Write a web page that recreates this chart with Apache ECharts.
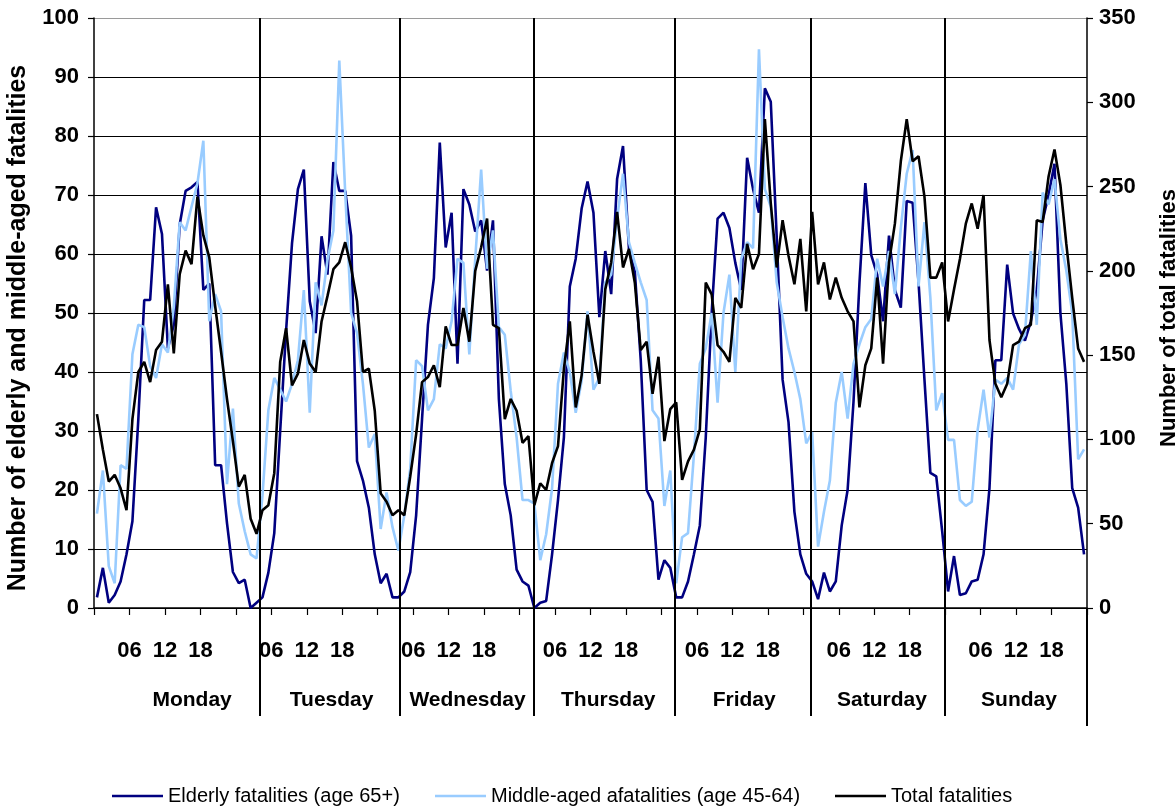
<!DOCTYPE html>
<html>
<head>
<meta charset="utf-8">
<script src="https://cdn.jsdelivr.net/npm/echarts@6/dist/echarts.min.js"></script>
<style>
html,body{margin:0;padding:0;background:#fff;}
#c{width:1175px;height:806px;}
</style>
</head>
<body>
<div id="c"></div>
<script>
// Hourly values, Monday 00h ... Sunday 23h (168 points)
const elderly = [
 1.8,6.8,0.9,2.2,4.5,9.1,14.7,32,52.2,52.2,67.9,63.4,44,48,65,70.7,71.3,72.2,53.9,55,24.2,24.2,14.4,6.1,
 4.2,4.8,0,0.9,1.8,6,12.7,30,47,61.8,71,74.3,52,46.6,63,56.5,75.6,70.7,70.7,63.1,24.9,21.6,17,9.1,
 4.2,5.8,1.8,1.8,2.8,6.1,15.7,32,48,55.9,78.9,61.1,67,41.4,71,68.4,63.8,65.7,57.2,65.7,35.4,21,15.7,6.5,
 4.5,3.8,0,0.9,1.2,9.1,18.3,28.9,54.5,59.2,67.7,72.3,67,49.3,60.5,53.2,72.7,78.3,61,57,42,20,18,4.8,
 8.1,6.8,1.8,1.8,4.5,9.1,14,28.9,50,66,67,64.4,58.5,53.9,76.3,71,67,88.1,85.8,63,38.7,31.5,16.3,9.1,
 5.8,4.5,1.5,6,2.8,4.5,14,20,35,55,72,59.8,56.5,48.6,63.1,53.9,50.9,69,68.7,55.2,38.7,22.9,22.3,13,
 2.8,8.8,2.2,2.5,4.5,4.8,9.1,20.3,42,42,58.2,49.9,47.3,45.3,48.6,53.9,65.7,70,75.3,50,38,20.3,17,9.1
];
const middleAged = [
 16,23.3,7.1,4.2,24.2,23.6,43,48,47.6,41,39,44.7,43.3,51,65.4,64,68,72,79.2,48.6,53.2,50.3,21,33.8,
 17.7,13,9.1,8.4,19,33.5,39,37,35,38,42,53.9,33.1,55.2,51.3,59,64,92.8,70.4,50,46.6,38,27.2,29.5,
 13.4,19.6,13.7,9.7,15.7,23.6,42,41,33.5,35.4,44.7,44,48.6,59.2,58.5,43,59.2,74.3,57.5,64,47.6,46.3,36.8,28.9,
 18.3,18.3,17.7,8.1,12.5,20.3,38,43.3,40,33.1,38.5,50.3,37,39,55.2,56.5,66,73.6,62,58.5,55.2,52.2,33.5,32.1,
 17.3,23.3,4.2,12,12.7,26,41.4,44,50,34.8,50,56.5,40,59.2,62,61,94.7,71,68,55.2,49.3,44,40,35.4,
 27.9,29.8,10.4,16.3,21.6,34.8,40,32.1,41.4,44.7,47.6,49,59.2,54.5,60.5,53.2,64.4,73.6,77.6,54.5,65.4,52.6,33.5,36.4,
 28.5,28.5,18.3,17.3,18,30.2,37,28.9,38.7,38,39,37,44.7,46.3,60.5,48,70.4,68.4,72.7,62.5,57.2,50,25.2,26.9
];
const total = [
 115,94,75,79,71,58,112,140,146,134,153,158,192,151,198,212,204,244,221,208,179,152,124,99,
 72,79,53,44,58,61,80,146,166,132,139,159,145,140,170,185,201,205,217,202,182,140,142,117,
 68,63,55,58,55,78,103,134,137,144,131,167,156,156,178,158,200,214,231,168,166,112,124,117,
 98,102,61,74,70,86,96,142,170,119,138,174,152,133,189,205,235,202,213,193,153,158,127,149,
 99,118,122,76,87,94,106,193,186,156,152,146,184,178,216,201,210,290,240,202,230,209,192,219,
 176,235,192,205,183,196,184,176,170,119,144,154,196,145,205,228,265,290,265,268,244,196,196,205,
 170,189,207,228,240,225,245,159,133,125,133,156,158,166,168,230,229,256,272,251,216,184,154,146
];
const hourTickLabels = ['06', '12', '18'];
const days = ['Monday', 'Tuesday', 'Wednesday', 'Thursday', 'Friday', 'Saturday', 'Sunday'];
// hand-drawn day separators and day-name anchors, in hours on the x axis
const dayDividers = [28.0, 51.7, 74.5, 98.3, 121.3, 143.9];
const dayLabelAt = [16.6, 40.2, 63.2, 87.0, 110.0, 133.3, 156.5];

const seriesNames = ['Elderly fatalities (age 65+)', 'Middle-aged afatalities (age 45-64)', 'Total fatalities'];
const leftTitle = 'Number of elderly and middle-aged fatalities';
const rightTitle = 'Number of total fatalities';

const FONT = "'Liberation Sans', Arial, Helvetica, sans-serif";
const chart = echarts.init(document.getElementById('c'), null, {renderer: 'canvas'});
// each hour is plotted at the centre of its hourly slot (category-centre placement)
const toXY = arr => arr.map((v, i) => [i + 0.5, v]);
const gridColors = ['#000','#000','#000','#000','#000','#000','#000','#000','#000','#000','#9a9a9a'];

const legendBase = {
  orient: 'horizontal', top: 781, icon: 'rect', itemWidth: 51, itemHeight: 2.5, itemGap: 0,
  textStyle: {fontFamily: FONT, fontSize: 20, color: '#000'}, selectedMode: false
};

chart.setOption({
  animation: false,
  backgroundColor: '#ffffff',
  grid: {left: 94, right: 88, top: 18, bottom: 198, containLabel: false},
  legend: [
    Object.assign({}, legendBase, {left: 107, data: [seriesNames[0]]}),
    Object.assign({}, legendBase, {left: 430, data: [seriesNames[1]]}),
    Object.assign({}, legendBase, {left: 830, data: [seriesNames[2]]})
  ],
  xAxis: {
    type: 'value', min: 0, max: 168, interval: 6,
    axisLine: {show: true, onZero: false, lineStyle: {color: '#000', width: 1.5}},
    axisTick: {show: true, length: 7, lineStyle: {color: '#000', width: 1.2}},
    axisLabel: {
      margin: 32, fontFamily: FONT, fontSize: 22, fontWeight: 'bold', color: '#000',
      showMinLabel: true, showMaxLabel: true,
      formatter: v => {
        const r = v % 24;
        return (r === 6 || r === 12 || r === 18) ? hourTickLabels[r / 6 - 1] : '';
      }
    },
    splitLine: {show: false}
  },
  yAxis: [
    {
      type: 'value', min: 0, max: 100, interval: 10, position: 'left',
      axisLine: {show: true, lineStyle: {color: '#000', width: 1.5}},
      axisTick: {show: true, length: 6, lineStyle: {color: '#000', width: 1.2}},
      axisLabel: {margin: 15, fontFamily: FONT, fontSize: 22, fontWeight: 'bold', color: '#000'},
      splitLine: {show: true, lineStyle: {color: gridColors, width: 1.2}}
    },
    {
      type: 'value', min: 0, max: 350, interval: 50, position: 'right',
      axisLine: {show: true, lineStyle: {color: '#000', width: 1.5}},
      axisTick: {show: true, length: 6, lineStyle: {color: '#000', width: 1.2}},
      axisLabel: {margin: 12, fontFamily: FONT, fontSize: 22, fontWeight: 'bold', color: '#000'},
      splitLine: {show: false}
    }
  ],
  series: [
    {name: seriesNames[0], type: 'line', yAxisIndex: 0, data: toXY(elderly), symbol: 'none',
     lineStyle: {color: '#000080', width: 2.6}, itemStyle: {color: '#000080'}, z: 2},
    {name: seriesNames[1], type: 'line', yAxisIndex: 0, data: toXY(middleAged), symbol: 'none',
     lineStyle: {color: '#99CCFF', width: 2.6}, itemStyle: {color: '#99CCFF'}, z: 3},
    {name: seriesNames[2], type: 'line', yAxisIndex: 1, data: toXY(total), symbol: 'none',
     lineStyle: {color: '#000000', width: 2.6}, itemStyle: {color: '#000000'}, z: 4}
  ]
});

// annotations positioned through the chart's own axes
const yTop = chart.convertToPixel({yAxisIndex: 0}, 100);
const yBase = chart.convertToPixel({yAxisIndex: 0}, 0);
const xRight = chart.convertToPixel({xAxisIndex: 0}, 168);
const g = [];
dayDividers.forEach(h => {
  const x = Math.round(chart.convertToPixel({xAxisIndex: 0}, h));
  g.push({type: 'line', shape: {x1: x, y1: yTop, x2: x, y2: yBase + 108}, style: {stroke: '#000', lineWidth: 2}, z: 10});
});
g.push({type: 'line', shape: {x1: xRight, y1: yBase, x2: xRight, y2: yBase + 118}, style: {stroke: '#000', lineWidth: 2}, z: 10});
days.forEach((d, i) => {
  const x = chart.convertToPixel({xAxisIndex: 0}, dayLabelAt[i]);
  g.push({type: 'text', x: x, y: yBase + 92, style: {text: d, fontFamily: FONT, fontSize: 21, fontWeight: 'bold', fill: '#000', align: 'center', verticalAlign: 'middle'}, z: 10});
});
g.push({type: 'text', x: 18, y: (yTop + yBase) / 2 + 15, rotation: Math.PI / 2,
  style: {text: leftTitle, fontFamily: FONT, fontSize: 25, fontWeight: 'bold', fill: '#000', align: 'center', verticalAlign: 'middle'}});
g.push({type: 'text', x: 1169, y: 318, rotation: Math.PI / 2,
  style: {text: rightTitle, fontFamily: FONT, fontSize: 22, fontWeight: 'bold', fill: '#000', align: 'center', verticalAlign: 'middle'}});
chart.setOption({graphic: g});
</script>
</body>
</html>
